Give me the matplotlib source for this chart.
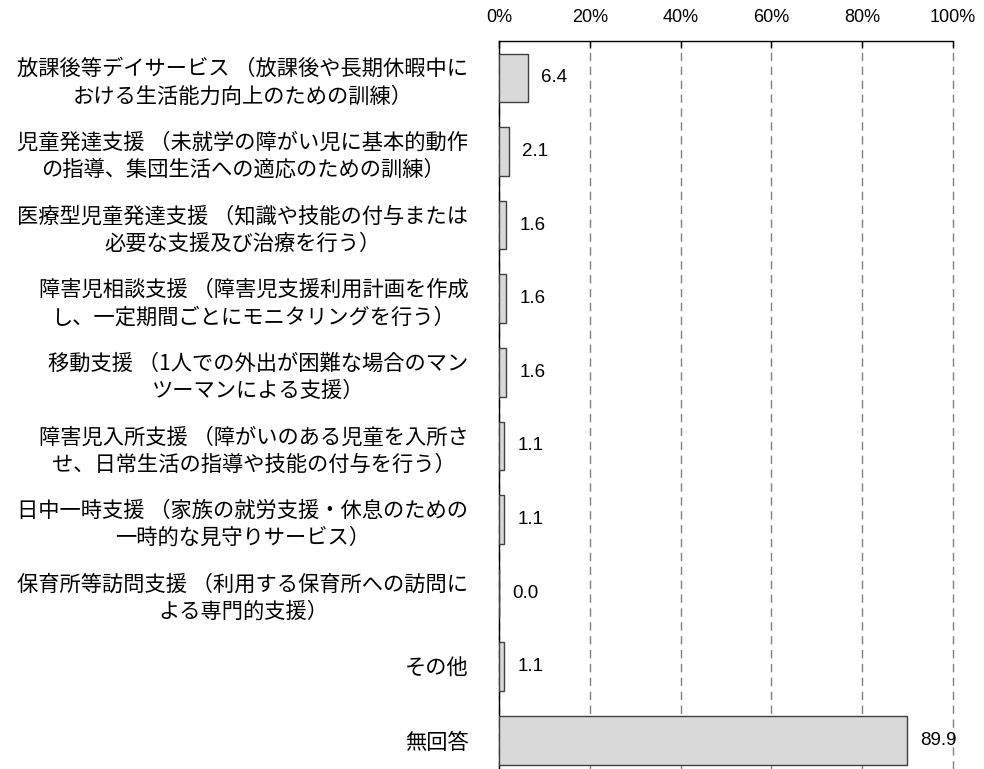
import matplotlib
matplotlib.use("Agg")
import matplotlib.pyplot as plt

plt.rcParams['font.family'] = ['Noto Sans CJK JP', 'DejaVu Sans']

# service categories (label text wrapped as in the source chart)
labels = [
    "放課後等デイサービス （放課後や長期休暇中に\nおける生活能力向上のための訓練）",
    "児童発達支援 （未就学の障がい児に基本的動作\nの指導、集団生活への適応のための訓練）",
    "医療型児童発達支援 （知識や技能の付与または\n必要な支援及び治療を行う）",
    "障害児相談支援 （障害児支援利用計画を作成\nし、一定期間ごとにモニタリングを行う）",
    "移動支援 （1人での外出が困難な場合のマン\nツーマンによる支援）",
    "障害児入所支援 （障がいのある児童を入所さ\nせ、日常生活の指導や技能の付与を行う）",
    "日中一時支援 （家族の就労支援・休息のための\n一時的な見守りサービス）",
    "保育所等訪問支援 （利用する保育所への訪問に\nよる専門的支援）",
    "その他",
    "無回答",
]
values = [6.4, 2.1, 1.6, 1.6, 1.6, 1.1, 1.1, 0.0, 1.1, 89.9]
x_ticks = [0, 20, 40, 60, 80, 100]
x_tick_labels = ["0%", "20%", "40%", "60%", "80%", "100%"]

fig = plt.figure(figsize=(9.84, 7.69), dpi=100)
ax = fig.add_axes([499 / 984, 0.0, 454 / 984, 1 - 41 / 769])

positions = list(range(len(values)))
ax.barh(positions, values, height=0.66, color='#d9d9d9',
        edgecolor='#404040', linewidth=1.0, zorder=3)

for y, v in zip(positions, values):
    ax.annotate(f"{v:.1f}", xy=(v, y), xytext=(9.5, 0),
                textcoords='offset points', va='center', ha='left',
                fontsize=13.5, family='Liberation Sans', zorder=4)

ax.set_xlim(0, 100)
ax.set_ylim(9.39, -0.5)

ax.xaxis.tick_top()
ax.set_xticks(x_ticks)
ax.set_xticklabels(x_tick_labels, family='Liberation Sans', fontsize=13)
ax.tick_params(axis='x', direction='in', length=5, width=1, pad=11,
               color='black')
ax.grid(axis='x', linestyle=(0, (6, 4)), color='#808080', linewidth=1,
        zorder=0)
for line in ax.get_xgridlines():
    line.set_clip_on(False)

ax.set_yticks(positions)
ax.set_yticklabels(labels, fontsize=15.3, multialignment='center',
                   linespacing=1.3)
ax.tick_params(axis='y', length=0, pad=22)

ax.spines['right'].set_visible(False)
ax.spines['bottom'].set_visible(False)
for side in ('left', 'top'):
    ax.spines[side].set_color('black')
    ax.spines[side].set_linewidth(1.0)

fig.savefig('out.png', dpi=100)
